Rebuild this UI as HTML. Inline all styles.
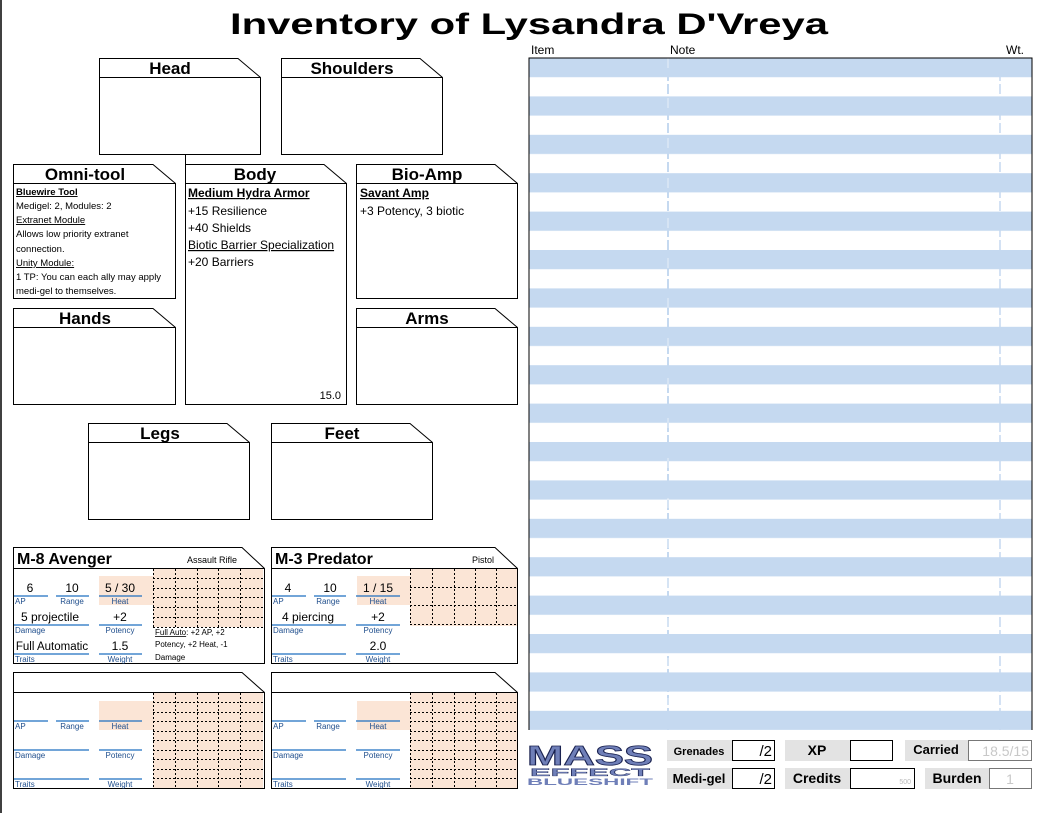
<!DOCTYPE html>
<html><head><meta charset="utf-8"><style>
html,body{margin:0;padding:0;background:#fff;}
svg{display:block;}
text{font-family:"Liberation Sans","DejaVu Sans",sans-serif;}
</style></head><body>
<svg width="1055" height="813" viewBox="0 0 1055 813" xmlns="http://www.w3.org/2000/svg">
<defs>
<pattern id="st" patternUnits="userSpaceOnUse" x="529" y="58" width="503" height="38.4">
<rect x="0" y="0" width="503" height="19.2" fill="#c5d9f0"/>
</pattern>
</defs>
<rect width="1055" height="813" fill="#fff"/>
<line x1="1" y1="0" x2="1" y2="813" stroke="#000" stroke-width="1.5"/>
<text x="529" y="34" font-size="30" font-weight="bold" text-anchor="middle" textLength="598" lengthAdjust="spacingAndGlyphs">Inventory of Lysandra D'Vreya</text>

<!-- table -->
<text x="531" y="54" font-size="12">Item</text>
<text x="670" y="54" font-size="12">Note</text>
<text x="1006" y="54" font-size="12">Wt.</text>
<rect x="529" y="58" width="503" height="672" fill="url(#st)"/>
<line x1="668" y1="58" x2="668" y2="730" stroke="#c5d9f0" stroke-width="2" stroke-dasharray="10,3"/>
<line x1="668" y1="58" x2="668" y2="730" stroke="#fff" stroke-width="1" stroke-dasharray="10,30" opacity="0.6"/>
<line x1="1000" y1="58" x2="1000" y2="730" stroke="#c5d9f0" stroke-width="1.5" stroke-dasharray="10,3"/>
<polyline points="529,730 529,58 1032,58 1032,730" fill="none" stroke="#000" stroke-width="1"/>

<g fill="#fff" stroke="#000" stroke-width="1">
<path d="M99.5 58.5H238L260.5 77.5V154.5H99.5Z"/><line x1="99.5" y1="77.5" x2="260.5" y2="77.5"/>
<path d="M281.5 58.5H420L442.5 77.5V154.5H281.5Z"/><line x1="281.5" y1="77.5" x2="442.5" y2="77.5"/>
<line x1="185.5" y1="154" x2="185.5" y2="164"/>
<path d="M13.5 164.5H153L175.5 183.5V298.5H13.5Z"/><line x1="13.5" y1="183.5" x2="175.5" y2="183.5"/>
<path d="M185.5 164.5H324L346.5 183.5V404.5H185.5Z"/><line x1="185.5" y1="183.5" x2="346.5" y2="183.5"/>
<path d="M356.5 164.5H495L517.5 183.5V298.5H356.5Z"/><line x1="356.5" y1="183.5" x2="517.5" y2="183.5"/>
<path d="M13.5 308.5H153L175.5 327.5V404.5H13.5Z"/><line x1="13.5" y1="327.5" x2="175.5" y2="327.5"/>
<path d="M356.5 308.5H495L517.5 327.5V404.5H356.5Z"/><line x1="356.5" y1="327.5" x2="517.5" y2="327.5"/>
<path d="M88.5 423.5H227L249.5 442.5V519.5H88.5Z"/><line x1="88.5" y1="442.5" x2="249.5" y2="442.5"/>
<path d="M271.5 423.5H410L432.5 442.5V519.5H271.5Z"/><line x1="271.5" y1="442.5" x2="432.5" y2="442.5"/>
<path d="M13.5 547.5H242L264.5 568.5V663.5H13.5Z"/><line x1="13.5" y1="568.5" x2="264.5" y2="568.5"/>
<path d="M271.5 547.5H495L517.5 568.5V663.5H271.5Z"/><line x1="271.5" y1="568.5" x2="517.5" y2="568.5"/>
<path d="M13.5 672.5H242L264.5 692.5V788.5H13.5Z"/><line x1="13.5" y1="692.5" x2="264.5" y2="692.5"/>
<path d="M271.5 672.5H495L517.5 692.5V788.5H271.5Z"/><line x1="271.5" y1="692.5" x2="517.5" y2="692.5"/>
</g>

<g font-size="17" font-weight="bold" text-anchor="middle">
<text x="170" y="74">Head</text>
<text x="352" y="74">Shoulders</text>
<text x="85" y="180">Omni-tool</text>
<text x="255" y="180">Body</text>
<text x="427" y="180">Bio-Amp</text>
<text x="85" y="324">Hands</text>
<text x="427" y="324">Arms</text>
<text x="160" y="439">Legs</text>
<text x="342" y="439">Feet</text>
</g>

<g font-size="9.5">
<text x="16" y="195" font-weight="bold" text-decoration="underline">Bluewire Tool</text>
<text x="16" y="209">Medigel: 2,  Modules: 2</text>
<text x="16" y="223" text-decoration="underline">Extranet Module </text>
<text x="16" y="237">Allows low priority extranet</text>
<text x="16" y="252">connection.</text>
<text x="16" y="266" text-decoration="underline">Unity Module:</text>
<text x="16" y="280">1 TP: You can each ally may apply</text>
<text x="16" y="294">medi-gel to themselves.</text>
</g>
<g font-size="12">
<text x="188" y="197" font-weight="bold" text-decoration="underline">Medium Hydra Armor</text>
<text x="188" y="215">+15 Resilience</text>
<text x="188" y="232">+40 Shields</text>
<text x="188" y="249" text-decoration="underline">Biotic Barrier Specialization</text>
<text x="188" y="266">+20 Barriers</text>
<text x="341" y="399" font-size="11" text-anchor="end">15.0</text>
<text x="360" y="197" font-weight="bold" text-decoration="underline">Savant Amp</text>
<text x="360" y="215">+3 Potency, 3 biotic</text>
</g>

<g fill="#fbe5d6">
<rect x="99" y="576" width="54" height="29"/><rect x="153" y="569" width="110" height="58"/>
<rect x="357" y="576" width="53" height="29"/><rect x="410" y="569" width="107" height="57"/>
<rect x="99" y="701" width="54" height="29"/><rect x="153" y="693" width="110" height="95"/>
<rect x="357" y="701" width="53" height="29"/><rect x="410" y="693" width="107" height="95"/>
</g>
<g stroke="#000" stroke-width="1" stroke-dasharray="2,2" fill="none">
<path d="M153.5 569V627M175.5 569V627M197.5 569V627M218.5 569V627M240.5 569V627M153 578.5H263M153 588.5H263M153 597.5H263M153 607.5H263M153 617.5H263M153 627.5H263"/>
<path d="M410.5 569V625M432.5 569V625M454.5 569V625M475.5 569V625M496.5 569V625M410 587.5H517M410 605.5H517M410 624.5H517"/>
<path d="M153.5 693V788M175.5 693V788M197.5 693V788M218.5 693V788M240.5 693V788M153 702.5H263M153 712.5H263M153 721.5H263M153 731.5H263M153 740.5H263M153 750.5H263M153 759.5H263M153 769.5H263M153 778.5H263"/>
<path d="M410.5 693V788M432.5 693V788M454.5 693V788M475.5 693V788M496.5 693V788M410 702.5H517M410 712.5H517M410 721.5H517M410 731.5H517M410 740.5H517M410 750.5H517M410 759.5H517M410 769.5H517M410 778.5H517"/>
</g>
<g stroke="#1f6fc0" stroke-width="1.2">
<path d="M14 596H48M56 596H89M99 596H142M14 625H89M99 625H142M14 654H89M99 654H142"/>
<path d="M272 596H306M314 596H346M356 596H400M272 625H346M356 625H400M272 654H346M356 654H400"/>
<path d="M14 721H48M56 721H89M99 721H142M14 750H89M99 750H142M14 779H89M99 779H142"/>
<path d="M272 721H306M314 721H346M356 721H400M272 750H346M356 750H400M272 779H346M356 779H400"/>
</g>
<g font-size="8" fill="#1f4e8c">
<text x="15" y="604">AP</text><text x="72" y="604" text-anchor="middle">Range</text><text x="120" y="604" text-anchor="middle">Heat</text>
<text x="15" y="633">Damage</text><text x="120" y="633" text-anchor="middle">Potency</text>
<text x="15" y="662">Traits</text><text x="120" y="662" text-anchor="middle">Weight</text>
<text x="273" y="604">AP</text><text x="328" y="604" text-anchor="middle">Range</text><text x="378" y="604" text-anchor="middle">Heat</text>
<text x="273" y="633">Damage</text><text x="378" y="633" text-anchor="middle">Potency</text>
<text x="273" y="662">Traits</text><text x="378" y="662" text-anchor="middle">Weight</text>
<text x="15" y="729">AP</text><text x="72" y="729" text-anchor="middle">Range</text><text x="120" y="729" text-anchor="middle">Heat</text>
<text x="15" y="758">Damage</text><text x="120" y="758" text-anchor="middle">Potency</text>
<text x="15" y="787">Traits</text><text x="120" y="787" text-anchor="middle">Weight</text>
<text x="273" y="729">AP</text><text x="328" y="729" text-anchor="middle">Range</text><text x="378" y="729" text-anchor="middle">Heat</text>
<text x="273" y="758">Damage</text><text x="378" y="758" text-anchor="middle">Potency</text>
<text x="273" y="787">Traits</text><text x="378" y="787" text-anchor="middle">Weight</text>
</g>
<g font-size="16" font-weight="bold">
<text x="17" y="564">M-8 Avenger</text>
<text x="275" y="564">M-3 Predator</text>
</g>
<g font-size="9">
<text x="237" y="563" text-anchor="end">Assault Rifle</text>
<text x="494" y="563" text-anchor="end">Pistol</text>
</g>
<g font-size="12" text-anchor="middle">
<text x="30" y="592">6</text><text x="72" y="592">10</text><text x="120" y="592">5 / 30</text>
<text x="50" y="621">5 projectile</text><text x="120" y="621">+2</text>
<text x="52" y="650" font-size="11.5">Full Automatic</text><text x="120" y="650">1.5</text>
<text x="288" y="592">4</text><text x="330" y="592">10</text><text x="378" y="592">1 / 15</text>
<text x="308" y="621">4 piercing</text><text x="378" y="621">+2</text>
<text x="378" y="650">2.0</text>
</g>
<g font-size="8">
<text x="155" y="635"><tspan text-decoration="underline">Full Auto</tspan>: +2 AP, +2</text>
<text x="155" y="647">Potency, +2 Heat, -1</text>
<text x="155" y="660">Damage</text>
</g>

<g font-family="Liberation Sans" font-weight="bold">
<text x="590" y="765" font-size="28" text-anchor="middle" fill="#6f7fb8" stroke="#1a2250" stroke-width="0.8" textLength="126" lengthAdjust="spacingAndGlyphs">MASS</text>
<text x="590" y="776" font-size="11" text-anchor="middle" fill="#6f7fb8" stroke="#1a2250" stroke-width="0.3" textLength="120" lengthAdjust="spacingAndGlyphs">EFFECT</text>
<text x="590" y="785" font-size="9" text-anchor="middle" fill="#6f7fb8" textLength="126" lengthAdjust="spacingAndGlyphs">BLUESHIFT</text>
</g>
<g fill="#e3e3e3">
<rect x="667" y="740" width="65" height="21"/><rect x="667" y="768" width="65" height="21"/>
<rect x="785" y="740" width="65" height="21"/><rect x="785" y="768" width="65" height="21"/>
<rect x="905" y="740" width="63" height="21"/><rect x="925" y="768" width="64" height="21"/>
</g>
<g fill="#fff" stroke="#000" stroke-width="1">
<rect x="732.5" y="740.5" width="42" height="20"/><rect x="732.5" y="768.5" width="42" height="20"/>
<rect x="850.5" y="740.5" width="42" height="20"/><rect x="850.5" y="768.5" width="64" height="20"/>
</g>
<g fill="#fff" stroke="#777" stroke-width="1">
<rect x="968.5" y="740.5" width="63" height="20"/><rect x="989.5" y="768.5" width="42" height="20"/>
</g>
<g font-weight="bold">
<text x="699" y="755" font-size="11" text-anchor="middle">Grenades</text>
<text x="699" y="783" font-size="13" text-anchor="middle">Medi-gel</text>
<text x="817" y="755" font-size="14" text-anchor="middle">XP</text>
<text x="817" y="783" font-size="14" text-anchor="middle">Credits</text>
<text x="936" y="754" font-size="13" text-anchor="middle">Carried</text>
<text x="957" y="783" font-size="14" text-anchor="middle">Burden</text>
<text x="772" y="756" font-size="15" text-anchor="end" font-weight="normal">/2</text>
<text x="772" y="784" font-size="15" text-anchor="end" font-weight="normal">/2</text>
</g>
<text x="1029" y="756" font-size="14" text-anchor="end" fill="#c8c8c8">18.5/15</text>
<text x="1010" y="784" font-size="14" text-anchor="middle" fill="#c8c8c8">1</text>
<text x="911" y="784" font-size="7" text-anchor="end" fill="#bbb">500</text>
</svg>
</body></html>
